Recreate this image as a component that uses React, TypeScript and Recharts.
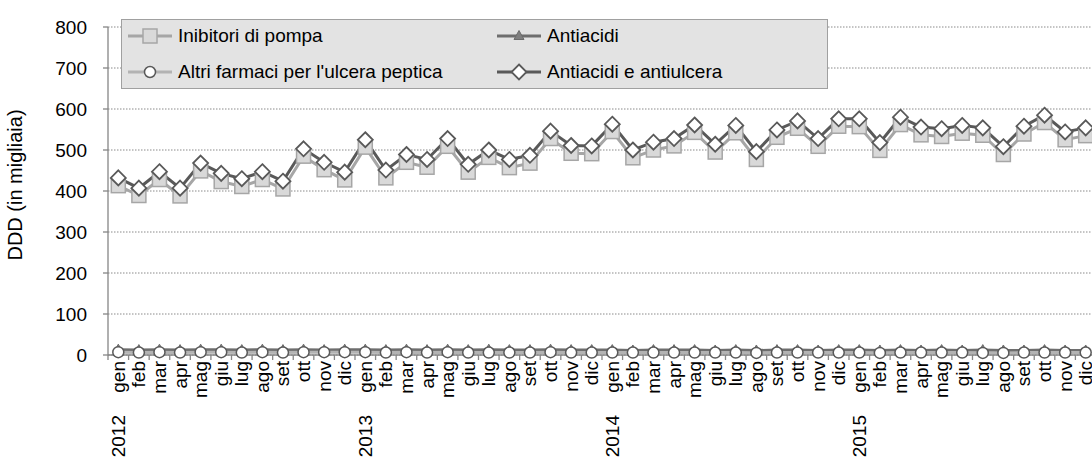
import { LineChart, Line, XAxis, YAxis, CartesianGrid, Legend } from 'recharts'

// Mesi e anni dell'asse categorie (2012-2015)
const years = ['2012', '2013', '2014', '2015']
const months = ['gen', 'feb', 'mar', 'apr', 'mag', 'giu', 'lug', 'ago', 'set', 'ott', 'nov', 'dic']
const yTicks = [0, 100, 200, 300, 400, 500, 600, 700, 800]

// DDD in migliaia
const inibitori = [
  413, 389, 428, 388, 449, 423, 411, 428, 405, 485, 452, 427,
  507, 432, 470, 458, 509, 446, 482, 457, 468, 528, 492, 491,
  545, 481, 500, 510, 543, 495, 542, 477, 531, 553, 509, 558,
  557, 499, 562, 537, 533, 541, 536, 489, 539, 567, 525, 535,
]
const antiacidi = [
  13, 12, 13, 12, 13, 13, 12, 13, 12, 13, 12, 13,
  13, 12, 13, 12, 13, 12, 13, 12, 12, 13, 12, 12,
  12, 11, 12, 12, 12, 11, 12, 11, 12, 12, 11, 12,
  12, 11, 12, 11, 12, 11, 12, 11, 11, 12, 11, 11,
]
const altri = [
  7, 6, 7, 6, 7, 7, 6, 7, 6, 7, 7, 7,
  7, 6, 7, 6, 7, 6, 6, 6, 6, 7, 6, 6,
  6, 6, 6, 6, 6, 6, 6, 5, 6, 6, 6, 6,
  6, 5, 6, 6, 6, 6, 5, 5, 6, 6, 6, 6,
]
const totale = [
  432, 407, 447, 407, 468, 443, 430, 447, 424, 503, 470, 446,
  525, 451, 489, 477, 528, 465, 500, 477, 487, 546, 511, 510,
  563, 500, 519, 528, 561, 514, 560, 496, 549, 571, 528, 576,
  576, 518, 580, 556, 552, 560, 554, 508, 558, 585, 544, 554,
]

const data = years.flatMap((y, yi) =>
  months.map((m, mi) => {
    const i = yi * 12 + mi
    return {
      label: `${y} ${m}`,
      year: y,
      month: m,
      inibitori: inibitori[i],
      antiacidi: antiacidi[i],
      altri: altri[i],
      totale: totale[i],
    }
  })
)

const FONT = "'Liberation Sans', Arial, sans-serif"
const AXIS = '#868686'

const Square = ({ cx, cy }: any) => (
  <rect x={cx - 7} y={cy - 7} width={14} height={14} fill="#d9d9d9" stroke="#a6a6a6" strokeWidth={1.5} />
)
const Triangle = ({ cx, cy }: any) => (
  <polygon points={`${cx},${cy - 5.5} ${cx + 5},${cy + 3.5} ${cx - 5},${cy + 3.5}`} fill="#7f7f7f" stroke="#6b6b6b" strokeWidth={1} />
)
const Circle = ({ cx, cy }: any) => (
  <circle cx={cx} cy={cy} r={5.5} fill="#fff" stroke="#595959" strokeWidth={1.5} />
)
const Diamond = ({ cx, cy }: any) => (
  <polygon points={`${cx},${cy - 7.5} ${cx + 7.5},${cy} ${cx},${cy + 7.5} ${cx - 7.5},${cy}`} fill="#fff" stroke="#595959" strokeWidth={1.8} />
)

const series = [
  { key: 'inibitori', name: 'Inibitori di pompa', color: '#a6a6a6', Marker: Square },
  { key: 'antiacidi', name: 'Antiacidi', color: '#6e6e6e', Marker: Triangle },
  { key: 'altri', name: "Altri farmaci per l'ulcera peptica", color: '#b3b3b3', Marker: Circle },
  { key: 'totale', name: 'Antiacidi e antiulcera', color: '#595959', Marker: Diamond },
]

const MonthTick = ({ x, y, payload }: any) => {
  const d = data[payload.index]
  return (
    <g>
      <line x1={x - 10.3} y1={y} x2={x - 10.3} y2={y + 5} stroke={AXIS} strokeWidth={1.3} />
      <text transform={`translate(${x},${y + 6}) rotate(-90)`} textAnchor="end" dominantBaseline="central" fontSize={19} fontFamily={FONT} fill="#000">
        {d.month}
      </text>
      {d.month === 'gen' && (
        <text transform={`translate(${x},${y + 60}) rotate(-90)`} textAnchor="end" dominantBaseline="central" fontSize={19} fontFamily={FONT} fill="#000">
          {d.year}
        </text>
      )}
    </g>
  )
}

const YTitle = () => (
  <text transform="translate(15,185) rotate(-90)" textAnchor="middle" dominantBaseline="central" fontSize={20} fontFamily={FONT} fill="#000">
    DDD (in migliaia)
  </text>
)

const LegendItem = ({ s, left, top }: any) => (
  <div style={{ position: 'absolute', left, top, display: 'flex', alignItems: 'center', whiteSpace: 'nowrap' }}>
    <svg width={46} height={20} style={{ display: 'block' }}>
      <line x1={0} y1={10} x2={44} y2={10} stroke={s.color} strokeWidth={3} />
      <s.Marker cx={22} cy={10} />
    </svg>
    <span style={{ marginLeft: 4, fontSize: 19, fontFamily: FONT, color: '#000', lineHeight: '20px' }}>{s.name}</span>
  </div>
)

const renderLegend = () => (
  <div style={{ position: 'relative', width: 705, height: 68, background: '#e3e3e3', border: '1px solid #a0a0a0' }}>
    <LegendItem s={series[0]} left={6} top={6} />
    <LegendItem s={series[1]} left={375} top={6} />
    <LegendItem s={series[2]} left={6} top={42} />
    <LegendItem s={series[3]} left={375} top={42} />
  </div>
)

export default function App() {
  return (
    <div style={{ position: 'fixed', left: 0, top: 0, width: 1092, height: 458, overflow: 'hidden', background: '#fff' }}>
      <LineChart width={1096} height={458} data={data} margin={{ top: 27, right: 0, bottom: 0, left: 0 }}>
        <CartesianGrid vertical={false} stroke="#8a8a8a" strokeDasharray="1.5 1.5" />
        <XAxis
          dataKey="label"
          interval={0}
          height={103}
          padding={{ left: 10.3, right: 10.3 }}
          tickSize={0}
          tickMargin={0}
          tickLine={false}
          axisLine={{ stroke: AXIS, strokeWidth: 1.3 }}
          tick={<MonthTick />}
        />
        <YAxis
          width={108}
          domain={[0, 800]}
          ticks={yTicks}
          interval={0}
          tickSize={5}
          tickMargin={16}
          axisLine={{ stroke: AXIS, strokeWidth: 1.3 }}
          tickLine={{ stroke: AXIS, strokeWidth: 1.3 }}
          tick={{ fontSize: 19, fontFamily: FONT, fill: '#000' }}
          label={<YTitle />}
        />
        <Legend
          layout="horizontal"
          verticalAlign="middle"
          align="center"
          content={renderLegend}
          wrapperStyle={{ left: 121, top: 19, width: 707, height: 70, margin: 0 }}
        />
        {series.map((s) => (
          <Line
            key={s.key}
            dataKey={s.key}
            name={s.name}
            type="linear"
            stroke={s.color}
            strokeWidth={3}
            isAnimationActive={false}
            dot={(p: any) => <s.Marker key={`${s.key}-${p.index}`} cx={p.cx} cy={p.cy} />}
            activeDot={false}
          />
        ))}
      </LineChart>
    </div>
  )
}
